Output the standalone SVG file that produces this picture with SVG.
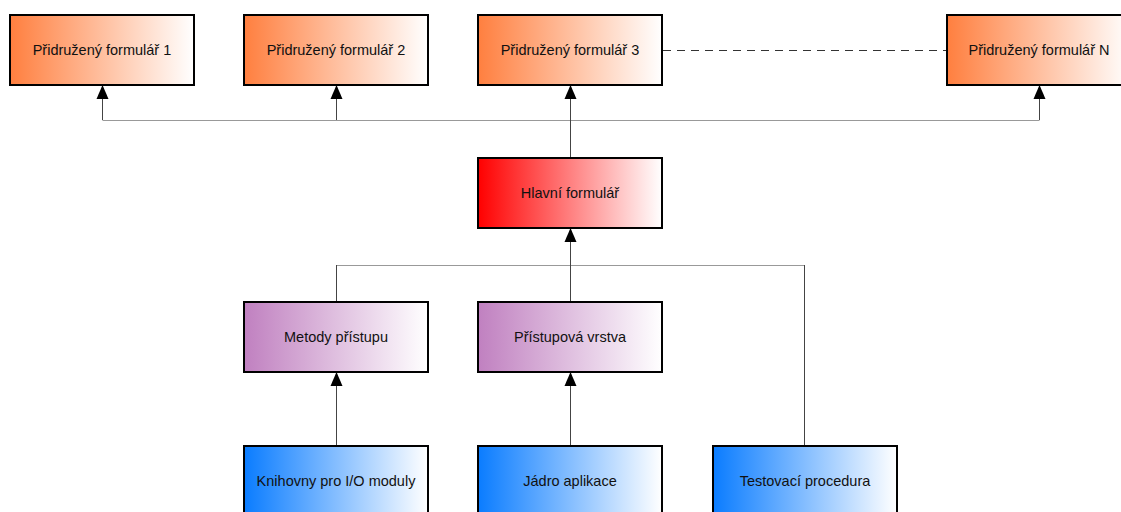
<svg xmlns="http://www.w3.org/2000/svg" width="1121" height="512" viewBox="0 0 1121 512">
  <defs>
    <linearGradient id="gOrange" x1="0" y1="0" x2="1" y2="0">
      <stop offset="0" stop-color="#FF7F3F"/>
      <stop offset="1" stop-color="#FFFFFF"/>
    </linearGradient>
    <linearGradient id="gRed" x1="0" y1="0" x2="1" y2="0">
      <stop offset="0" stop-color="#FF0000"/>
      <stop offset="1" stop-color="#FFFFFF"/>
    </linearGradient>
    <linearGradient id="gPurple" x1="0" y1="0" x2="1" y2="0">
      <stop offset="0" stop-color="#C080C0"/>
      <stop offset="1" stop-color="#FFFFFF"/>
    </linearGradient>
    <linearGradient id="gBlue" x1="0" y1="0" x2="1" y2="0">
      <stop offset="0" stop-color="#0A7CFF"/>
      <stop offset="1" stop-color="#FFFFFF"/>
    </linearGradient>
  </defs>
  <style>
    .box { stroke: #000; stroke-width: 2; }
    .lbl { font-family: "Liberation Sans", Arial, sans-serif; font-size: 14.5px; fill: #111; text-anchor: middle; dominant-baseline: central; }
    .wire { fill: none; stroke: #444; stroke-width: 1; }
    .bus { fill: none; stroke: #999; stroke-width: 1; }
    .dash { fill: none; stroke: #333; stroke-width: 1; stroke-dasharray: 8 6; }
  </style>
  <rect width="1121" height="512" fill="#FFFFFF"/>

  <!-- connectors -->
  <g id="connectors">
    <path class="bus" d="M102.5,120.5 H1039.5"/>
    <path class="wire" d="M102.5,120 V86"/>
    <path class="wire" d="M336.5,120 V86"/>
    <path class="wire" d="M1039.5,120 V86"/>
    <path class="wire" d="M570.5,158 V86"/>
    <path class="dash" d="M663,50.5 H947"/>
    <path class="bus" d="M336.5,265.5 H804.5"/>
    <path class="wire" d="M336.5,302 V265"/>
    <path class="wire" d="M570.5,302 V229"/>
    <path class="wire" d="M804.5,446 V265"/>
    <path class="wire" d="M336.5,446 V373"/>
    <path class="wire" d="M570.5,446 V373"/>
    <!-- arrowheads -->
    <path d="M102.5,85 L96.5,99 L108.5,99 Z"/>
    <path d="M336.5,85 L330.5,99 L342.5,99 Z"/>
    <path d="M570.5,85 L564.5,99 L576.5,99 Z"/>
    <path d="M1039.5,85 L1033.5,99 L1045.5,99 Z"/>
    <path d="M570.5,228 L564.5,242 L576.5,242 Z"/>
    <path d="M336.5,372 L330.5,386 L342.5,386 Z"/>
    <path d="M570.5,372 L564.5,386 L576.5,386 Z"/>
  </g>

  <!-- associated forms -->
  <g id="form1">
    <rect class="box" x="10" y="15" width="184" height="70" fill="url(#gOrange)"/>
    <text class="lbl" x="102" y="50">Přidružený formulář 1</text>
  </g>
  <g id="form2">
    <rect class="box" x="244" y="15" width="184" height="70" fill="url(#gOrange)"/>
    <text class="lbl" x="336" y="50">Přidružený formulář 2</text>
  </g>
  <g id="form3">
    <rect class="box" x="478" y="15" width="184" height="70" fill="url(#gOrange)"/>
    <text class="lbl" x="570" y="50">Přidružený formulář 3</text>
  </g>
  <g id="formN">
    <rect class="box" x="947" y="15" width="184" height="70" fill="url(#gOrange)"/>
    <text class="lbl" x="1039" y="50">Přidružený formulář N</text>
  </g>

  <!-- main form -->
  <g id="mainForm">
    <rect class="box" x="478" y="158" width="184" height="70" fill="url(#gRed)"/>
    <text class="lbl" x="570" y="193">Hlavní formulář</text>
  </g>

  <!-- access layer -->
  <g id="accessMethods">
    <rect class="box" x="244" y="302" width="184" height="70" fill="url(#gPurple)"/>
    <text class="lbl" x="336" y="337">Metody přístupu</text>
  </g>
  <g id="accessLayer">
    <rect class="box" x="478" y="302" width="184" height="70" fill="url(#gPurple)"/>
    <text class="lbl" x="570" y="337">Přístupová vrstva</text>
  </g>

  <!-- core modules -->
  <g id="ioLibs">
    <rect class="box" x="244" y="446" width="184" height="70" fill="url(#gBlue)"/>
    <text class="lbl" x="336" y="481">Knihovny pro I/O moduly</text>
  </g>
  <g id="appCore">
    <rect class="box" x="478" y="446" width="184" height="70" fill="url(#gBlue)"/>
    <text class="lbl" x="570" y="481">Jádro aplikace</text>
  </g>
  <g id="testProc">
    <rect class="box" x="713" y="446" width="184" height="70" fill="url(#gBlue)"/>
    <text class="lbl" x="805" y="481">Testovací procedura</text>
  </g>
</svg>
